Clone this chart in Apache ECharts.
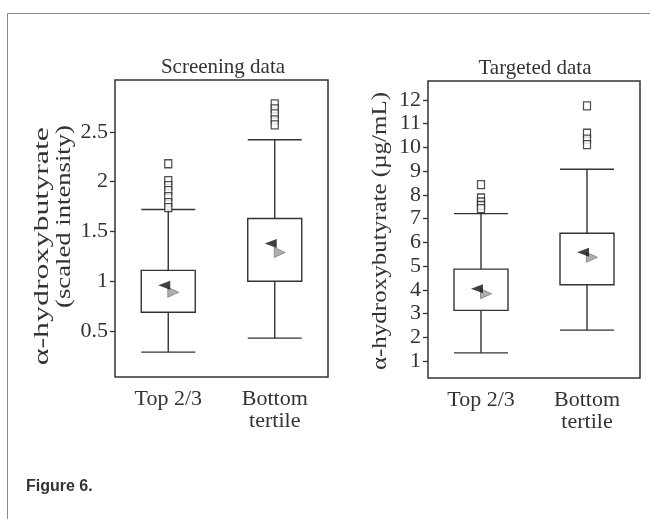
<!DOCTYPE html>
<html>
<head>
<meta charset="utf-8">
<script src="https://cdn.jsdelivr.net/npm/echarts@6/dist/echarts.min.js"></script>
<style>
  html, body { margin: 0; padding: 0; background: #fff; }
  #chart { width: 650px; height: 519px; }
</style>
</head>
<body>
<div id="chart"></div>
<script>
const categories = ["Top 2/3", "Bottom\ntertile"];

// box = [lower whisker, Q1, Q3, upper whisker]
const screeningBoxes = [
  [0.29, 0.69, 1.11, 1.72],
  [0.43, 1.0, 1.63, 2.42],
];
const screeningOutliersTop = [2.18, 2.01, 1.96, 1.91, 1.85, 1.79, 1.74];
const screeningOutliersBottom = [2.78, 2.73, 2.68, 2.62, 2.57];
const screeningBlack = [0.96, 1.38];
const screeningGray = [0.89, 1.29];
const screeningTicks = [0.5, 1, 1.5, 2, 2.5];

const targetedBoxes = [
  [1.34, 3.13, 4.87, 7.21],
  [2.3, 4.21, 6.38, 9.08],
];
const targetedOutliersTop = [8.43, 7.87, 7.7, 7.55, 7.42];
const targetedOutliersBottom = [11.75, 10.6, 10.35, 10.12];
const targetedBlack = [4.04, 5.58];
const targetedGray = [3.83, 5.37];
const targetedTicks = [1, 2, 3, 4, 5, 6, 7, 8, 9, 10, 11, 12];

const serif = "'Liberation Serif', 'Times New Roman', serif";
const ink = "#333";

function renderBox(params, api) {
  const cat = api.value(0);
  const low = api.coord([cat, api.value(1)]);
  const q1 = api.coord([cat, api.value(2)]);
  const q3 = api.coord([cat, api.value(3)]);
  const high = api.coord([cat, api.value(4)]);
  const x = low[0];
  const half = 27;
  const line = { stroke: ink, lineWidth: 1.4 };
  return {
    type: "group",
    children: [
      { type: "line", shape: { x1: x, y1: q3[1], x2: x, y2: high[1] }, style: line },
      { type: "line", shape: { x1: x, y1: q1[1], x2: x, y2: low[1] }, style: line },
      { type: "line", shape: { x1: x - half, y1: high[1], x2: x + half, y2: high[1] }, style: line },
      { type: "line", shape: { x1: x - half, y1: low[1], x2: x + half, y2: low[1] }, style: line },
      {
        type: "rect",
        shape: { x: x - half, y: q3[1], width: half * 2, height: q1[1] - q3[1] },
        style: { stroke: ink, lineWidth: 1.4, fill: "#fff" },
      },
    ],
  };
}

function outlierPoints(top, bottom) {
  return top.map((v) => [0, v]).concat(bottom.map((v) => [1, v]));
}

function panelSeries(idx, boxes, outTop, outBottom, black, gray) {
  return [
    {
      type: "custom",
      xAxisIndex: idx,
      yAxisIndex: idx,
      renderItem: renderBox,
      encode: { x: 0, y: [1, 2, 3, 4] },
      data: boxes.map((b, i) => [i].concat(b)),
      z: 2,
    },
    {
      type: "scatter",
      xAxisIndex: idx,
      yAxisIndex: idx,
      symbol: "rect",
      symbolSize: [7, 8],
      itemStyle: { color: "#fff", borderColor: "#222", borderWidth: 1.3 },
      data: outlierPoints(outTop, outBottom),
      z: 3,
    },
    {
      type: "scatter",
      xAxisIndex: idx,
      yAxisIndex: idx,
      symbol: "triangle",
      symbolRotate: -90,
      symbolSize: [10, 11],
      symbolOffset: [5, 0],
      itemStyle: { color: "#9a9a9a", borderColor: "#6a6a6a", borderWidth: 0.8 },
      data: gray.map((v, i) => [i, v]),
      z: 4,
    },
    {
      type: "scatter",
      xAxisIndex: idx,
      yAxisIndex: idx,
      symbol: "triangle",
      symbolRotate: 90,
      symbolSize: [9, 12],
      symbolOffset: [-4, 0],
      itemStyle: { color: "#111" },
      data: black.map((v, i) => [i, v]),
      z: 5,
    },
  ];
}

function xAxisFor(idx) {
  return {
    type: "category",
    gridIndex: idx,
    data: categories,
    axisLine: { show: false },
    axisTick: { alignWithLabel: true, length: 6, lineStyle: { color: ink, width: 1.3 } },
    axisLabel: { color: ink, fontFamily: serif, fontSize: 22, lineHeight: 22, margin: 11 },
  };
}

function yAxisFor(idx, min, max, ticks) {
  return {
    type: "value",
    gridIndex: idx,
    min: min,
    max: max,
    axisLine: { show: false },
    splitLine: { show: false },
    axisTick: { show: true, length: 5, customValues: ticks, lineStyle: { color: ink, width: 1.3 } },
    axisLabel: { color: ink, fontFamily: serif, fontSize: 22, margin: 7, customValues: ticks },
  };
}

function axisName(text, x, y, scale, size, align) {
  return {
    type: "text",
    x: x,
    y: y,
    rotation: Math.PI / 2,
    scaleX: scale,
    style: {
      text: text,
      font: size + "px " + serif,
      fill: ink,
      align: align,
      verticalAlign: "middle",
    },
  };
}

const chart = echarts.init(document.getElementById("chart"));
const option = {
  animation: false,
  backgroundColor: "#fff",
  title: [
    {
      text: "Screening data",
      left: 218,
      top: 52,
      textAlign: "center",
      textStyle: { fontFamily: serif, fontSize: 21, fontWeight: "normal", color: ink },
    },
    {
      text: "Targeted data",
      left: 530,
      top: 53,
      textAlign: "center",
      textStyle: { fontFamily: serif, fontSize: 21, fontWeight: "normal", color: ink },
    },
  ],
  grid: [
    { left: 115, top: 80, width: 213, height: 297, show: true, borderColor: ink, borderWidth: 1.5 },
    { left: 428, top: 81, width: 212, height: 297, show: true, borderColor: ink, borderWidth: 1.5 },
  ],
  xAxis: [xAxisFor(0), xAxisFor(1)],
  yAxis: [
    yAxisFor(0, 0.04, 3.02, screeningTicks),
    yAxisFor(1, 0.28, 12.8, targetedTicks),
  ],
  graphic: [
    {
      type: "polyline",
      shape: { points: [[7.5, 519], [7.5, 13.5], [650, 13.5]] },
      style: { stroke: "#8a8a8a", lineWidth: 1, fill: null },
    },
    axisName("α-hydroxybutyrate", 42, 127, 1.52, 21, "right"),
    axisName("(scaled intensity)", 64, 125, 1.27, 21, "right"),
    axisName("α-hydroxybutyrate (µg/mL)", 381, 231, 1.25, 20, "center"),
    {
      type: "text",
      x: 26,
      y: 479,
      style: {
        text: "Figure 6.",
        font: "bold 16px 'Liberation Sans', Arial, sans-serif",
        fill: "#333",
      },
    },
  ],
  series: [
    ...panelSeries(0, screeningBoxes, screeningOutliersTop, screeningOutliersBottom, screeningBlack, screeningGray),
    ...panelSeries(1, targetedBoxes, targetedOutliersTop, targetedOutliersBottom, targetedBlack, targetedGray),
  ],
};
chart.setOption(option);
</script>
</body>
</html>
